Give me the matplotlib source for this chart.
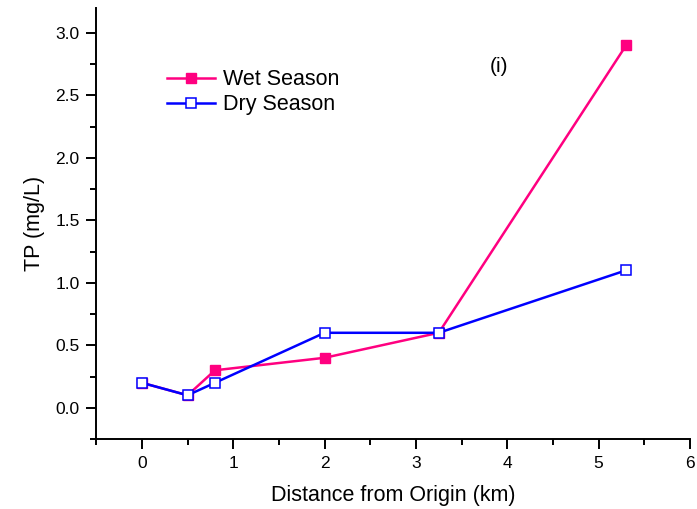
import matplotlib.pyplot as plt
from matplotlib.ticker import MultipleLocator, FormatStrFormatter

plt.rcParams['font.family'] = ['Liberation Sans', 'DejaVu Sans']

distancia = [0, 0.5, 0.8, 2, 3.25, 5.3]
tp_chuvosa = [0.2, 0.1, 0.3, 0.4, 0.6, 2.9]
tp_seca = [0.2, 0.1, 0.2, 0.6, 0.6, 1.1]

cor_chuvosa = '#FF0080'
cor_seca = '#0000FF'

fig = plt.figure(figsize=(6.97, 5.09), dpi=100)
ax = fig.add_axes([0.138, 0.1375, 0.852, 0.847])

ax.plot(distancia, tp_chuvosa, color=cor_chuvosa, lw=1.8, marker='s', ms=7.5,
        mfc=cor_chuvosa, mec=cor_chuvosa, label='Wet Season')
ax.plot(distancia, tp_seca, color=cor_seca, lw=1.8, marker='s', ms=7.5,
        mfc='white', mec=cor_seca, mew=1.1, label='Dry Season')

ax.set_xlim(-0.5, 6)
ax.set_ylim(-0.25, 3.2)
ax.xaxis.set_major_locator(MultipleLocator(1))
ax.xaxis.set_minor_locator(MultipleLocator(0.5))
ax.yaxis.set_major_locator(MultipleLocator(0.5))
ax.yaxis.set_minor_locator(MultipleLocator(0.25))
ax.yaxis.set_major_formatter(FormatStrFormatter('%.1f'))

for lado in ['top', 'right']:
    ax.spines[lado].set_visible(False)
for lado in ['left', 'bottom']:
    ax.spines[lado].set_linewidth(1.4)

ax.tick_params(which='major', direction='out', length=7, width=1.4, labelsize=12.5, pad=5)
ax.tick_params(which='minor', direction='out', length=4, width=1.4)

ax.set_xlabel('Distance from Origin (km)', fontsize=15.5, labelpad=10)
ax.set_ylabel('TP (mg/L)', fontsize=15.5, labelpad=7)

ax.text(3.91, 2.73, '(i)', fontsize=15, ha='center', va='center')

ax.legend(loc='upper left', bbox_to_anchor=(0.105, 0.878), frameon=False, fontsize=15.5,
          handlelength=2.2, handletextpad=0.4, labelspacing=0.2, borderaxespad=0)

plt.savefig('out.png', dpi=100)
